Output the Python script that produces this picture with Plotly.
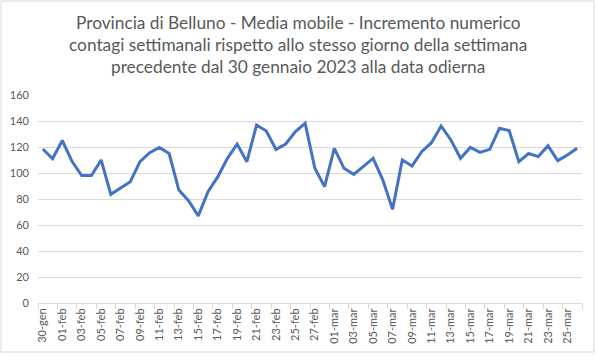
import datetime as dt
import plotly.graph_objects as go

mesi = {1: "gen", 2: "feb", 3: "mar"}
start = dt.date(2023, 1, 30)
valori = [118.5, 111, 125, 109, 98, 98, 110, 83.6, 88.5, 93.3,
          108.7, 115.6, 119.7, 115, 86.9, 78.7, 67, 85.6, 97, 111.3,
          122.3, 108.7, 136.9, 132.3, 118.2, 122.3, 131.8, 138.2, 103.6, 89.5,
          119, 103.6, 99, 104.9, 111.3, 94.6, 72, 110, 105.4, 116.4,
          123.3, 136.2, 125.4, 111.3, 119.7, 115.9, 118.2, 134.4, 132.6, 108.7,
          115, 112.6, 121, 109.5, 113.8, 119]
giorni = [start + dt.timedelta(days=i) for i in range(len(valori))]
etichette = [f"{d.day:02d}-{mesi[d.month]}" for d in giorni]

righe_titolo = ["Provincia di Belluno - Media mobile - Incremento numerico",
                "contagi settimanali rispetto allo stesso giorno della settimana",
                "precedente dal 30 gennaio 2023 alla data odierna"]

grey = "#595959"
grid = "#D9D9D9"
font = "Lato"

fig = go.Figure(go.Scatter(x=etichette, y=valori, mode="lines",
                           line=dict(color="#4472C4", width=3)))

L, R, T, B = 38, 14, 95, 53
W, H = 596, 356
pw, ph = W - L - R, H - T - B

def fx(p):
    return (p - L) / pw

def fy(q):
    return (H - B - q) / ph

annotations = []
for riga, yc in zip(righe_titolo, [23, 44.5, 66]):
    annotations.append(dict(text=riga, xref="paper", yref="paper",
                            x=fx(298), y=fy(yc), xanchor="center", yanchor="middle",
                            showarrow=False, font=dict(family=font, size=17.3, color=grey)))

fig.update_layout(
    width=W, height=H,
    margin=dict(l=L, r=R, t=T, b=B),
    paper_bgcolor="white", plot_bgcolor="white",
    showlegend=False,
    font=dict(family=font, color=grey),
    annotations=annotations,
    xaxis=dict(type="category", tickangle=-90, dtick=2, tickson="boundaries",
               ticks="outside", ticklen=5, tickcolor=grid,
               showline=True, linecolor=grid, showgrid=False, automargin=False,
               tickfont=dict(size=11, color=grey), range=[-0.5, len(valori) - 0.5]),
    yaxis=dict(range=[0, 160], dtick=20, showgrid=True, gridcolor=grid,
               zeroline=False, showline=False, ticks="", automargin=False,
               ticklabelstandoff=8,
               tickfont=dict(size=11, color=grey)),
    shapes=[dict(type="rect", xref="paper", yref="paper",
                 x0=fx(1), x1=fx(594), y0=fy(352), y1=fy(1),
                 line=dict(color=grid, width=1), layer="below")],
)

fig.write_html("out.html", config={"displayModeBar": False},
               post_script="document.body.style.margin='0';")
